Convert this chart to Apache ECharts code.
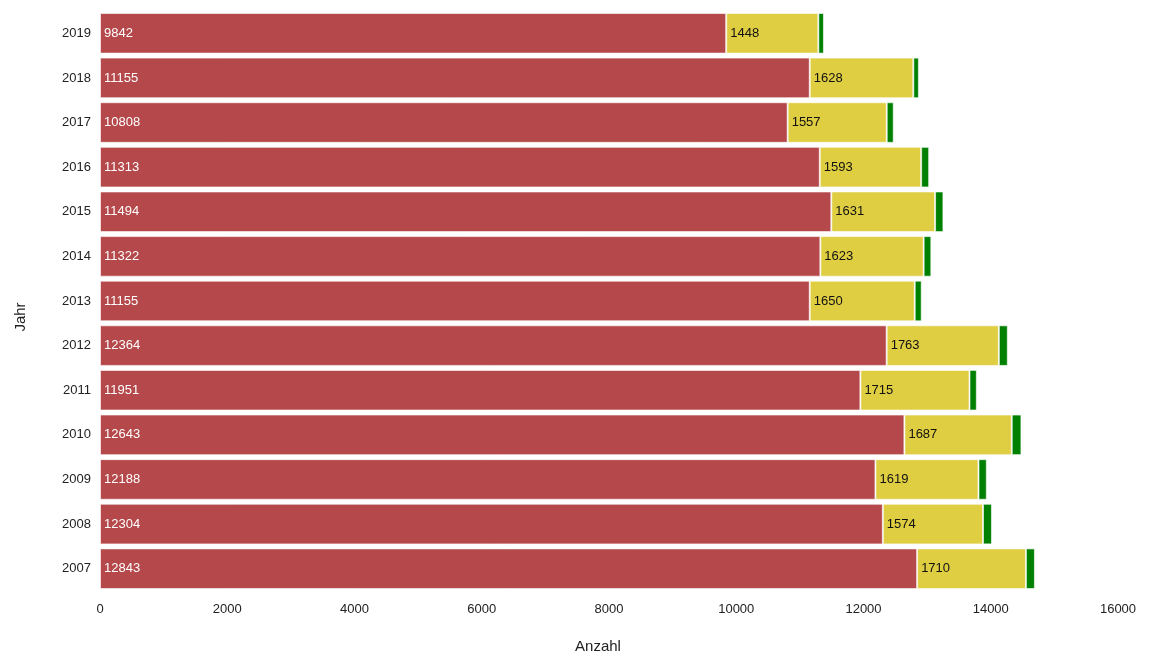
<!DOCTYPE html>
<html>
<head>
<meta charset="utf-8">
<script src="https://cdn.jsdelivr.net/npm/echarts@6/dist/echarts.min.js"></script>
<style>
  html, body { margin: 0; padding: 0; background: #fff; }
  #chart { width: 1155px; height: 662px; }
</style>
</head>
<body>
<div id="chart"></div>
<script>
var years = ['2007', '2008', '2009', '2010', '2011', '2012', '2013', '2014', '2015', '2016', '2017', '2018', '2019'];
var redValues = [12843, 12304, 12188, 12643, 11951, 12364, 11155, 11322, 11494, 11313, 10808, 11155, 9842];
var yellowValues = [1710, 1574, 1619, 1687, 1715, 1763, 1650, 1623, 1631, 1593, 1557, 1628, 1448];
var greenValues = [141, 141, 131, 152, 115, 141, 110, 121, 131, 126, 110, 88, 88];

var chart = echarts.init(document.getElementById('chart'));

var border = { borderColor: 'rgba(255,255,255,0.6)', borderWidth: 1 };

chart.setOption({
  backgroundColor: '#ffffff',
  animation: false,
  textStyle: { fontFamily: '"Liberation Sans", Arial, sans-serif' },
  grid: { left: 100, right: 37, top: 11, bottom: 71 },
  xAxis: {
    type: 'value',
    min: 0,
    max: 16000,
    interval: 2000,
    name: 'Anzahl',
    nameLocation: 'middle',
    nameGap: 48,
    nameTextStyle: { color: '#222', fontSize: 15, padding: [0, 22, 0, 0] },
    axisLine: { show: false },
    axisTick: { show: false },
    splitLine: { show: false },
    axisLabel: { color: '#222', fontSize: 13, margin: 12, formatter: function (v) { return String(v); } }
  },
  yAxis: {
    type: 'category',
    data: years,
    name: 'Jahr',
    nameLocation: 'middle',
    nameGap: 72,
    nameTextStyle: { color: '#222', fontSize: 15, padding: [0, 32, 0, 0] },
    axisLine: { show: false },
    axisTick: { show: false },
    splitLine: { show: false },
    axisLabel: { color: '#222', fontSize: 13, margin: 9 }
  },
  series: [
    {
      type: 'bar',
      stack: 'total',
      data: redValues,
      barCategoryGap: '9%',
      itemStyle: Object.assign({ color: '#b5484a' }, border),
      label: { show: true, position: 'insideLeft', distance: 4, color: '#fff', fontSize: 13 }
    },
    {
      type: 'bar',
      stack: 'total',
      data: yellowValues,
      itemStyle: Object.assign({ color: '#dfcd42' }, border),
      label: { show: true, position: 'insideLeft', distance: 4, color: '#111', fontSize: 13 }
    },
    {
      type: 'bar',
      stack: 'total',
      data: greenValues,
      itemStyle: Object.assign({ color: '#008000' }, border)
    }
  ]
});
</script>
</body>
</html>
